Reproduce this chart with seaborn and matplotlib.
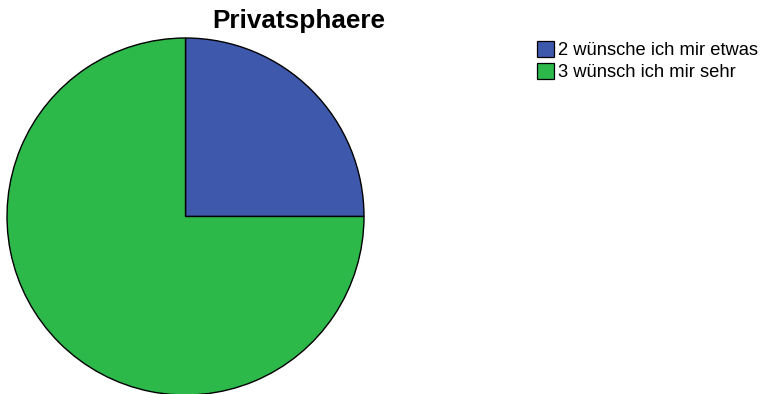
import matplotlib
matplotlib.use("Agg")
import matplotlib.pyplot as plt
import seaborn as sns
from matplotlib.patches import Patch

sns.set_style("white")
plt.rcParams["font.family"] = ["Liberation Sans", "DejaVu Sans"]
plt.rcParams["text.color"] = "black"

# Chart data
categories = ["2 wünsche ich mir etwas", "3 wünsch ich mir sehr"]
shares = [25, 75]
colors = ["#3e58ac", "#2db84a"]
title = "Privatsphaere"

W, H = 761, 394
fig = plt.figure(figsize=(W / 100, H / 100), dpi=100)

# Pie placed by pixel geometry: center and radius
cx, cy, r = 185.5, 216.5, 178.5
ax = fig.add_axes([(cx - r) / W, (H - cy - r) / H, 2 * r / W, 2 * r / H])
ax.pie(shares, colors=colors, startangle=90, counterclock=False, radius=1,
       wedgeprops=dict(edgecolor="black", linewidth=1.0))
ax.set_xlim(-1, 1)
ax.set_ylim(-1, 1)
ax.set_aspect("equal")
ax.axis("off")
for p in ax.patches:
    p.set_clip_on(False)

fig.text(299 / W, 1 - 28 / H, title, ha="center", va="baseline",
         fontsize=18.8, fontweight="bold", color="black")

handles = [Patch(facecolor=c, edgecolor="black", linewidth=0.9) for c in colors]
fig.legend(handles, categories, loc="upper left",
           bbox_to_anchor=(537 / W, 1 - 41 / H), frameon=False,
           fontsize=13.2, handlelength=0.95, handleheight=0.95,
           handletextpad=0.2, labelspacing=0.2, borderpad=0.0,
           borderaxespad=0.0)

fig.savefig("out.png", dpi=100)
